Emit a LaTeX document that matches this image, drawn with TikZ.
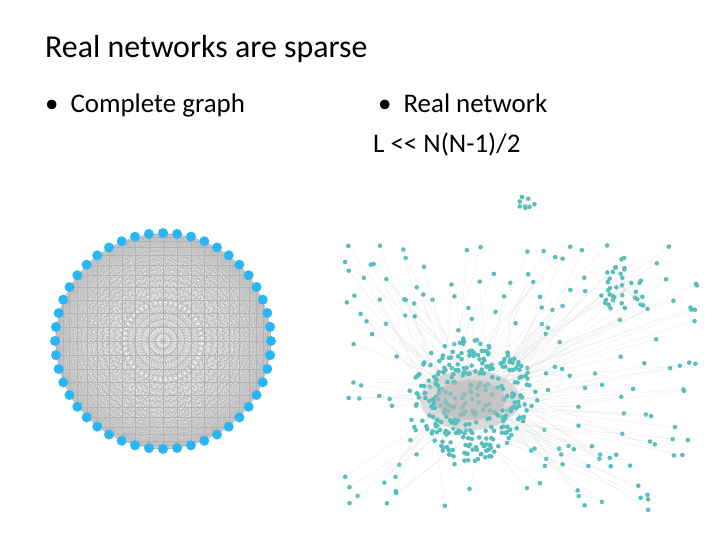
\documentclass[tikz,border=0pt]{standalone}
\usepackage{fontspec}
\setmainfont{Carlito}
\usetikzlibrary{calc}
\definecolor{kblue}{RGB}{41,182,246}
\definecolor{kteal}{RGB}{86,190,188}
\tikzset{
  vtx/.style={circle,fill=kblue,inner sep=0pt,minimum size=10bp},
  edge/.style={gray!60,line width=0.1pt},
  redge/.style={gray!25,line width=0.15pt},
  title/.style={anchor=base west,font=\fontsize{32}{36}\selectfont,inner sep=0pt},
  item/.style={anchor=base west,font=\fontsize{27}{32}\selectfont,inner sep=0pt},
}
\begin{document}
\begin{tikzpicture}[x=1bp,y=-1bp]
    \useasboundingbox (0,0) rectangle (720,540);
    \node[title] (ttl) at (45,58) {Real networks are sparse};
    \node[item] (b1) at (45,113) {\textbullet\hspace{12bp}Complete graph};
    \node[item] (b2) at (378,113) {\textbullet\hspace{12bp}Real network};
    \node[item] (b3) at (373,153) {L {<}{<} N(N-1)/2};
    % complete graph
    \coordinate (cg) at (163,341);
    \foreach \i in {1,...,48}
        \coordinate (v\i) at ($(cg)+(\i*7.5:108)$);
    \foreach \i in {1,...,47}{
        \pgfmathtruncatemacro\j{\i+1}
        \foreach \k in {\j,...,48}
            \draw[edge] (v\i) -- (v\k);
    }
    \foreach \i in {1,...,48}
        \node[vtx] (n\i) at (v\i) {};
    % real network
    \pgfmathsetseed{11}
    \coordinate (hub) at (470,400);
    \foreach \i in {1,...,200}{
        \pgfmathsetmacro\px{345+355*rnd}
        \pgfmathsetmacro\py{245+265*rnd}
        \pgfmathsetmacro\hx{470+40*rand}
        \pgfmathsetmacro\hy{400+20*rand}
        \draw[redge] (\hx,\hy) -- (\px,\py);
        \fill[kteal] (\px,\py) circle (2.3bp);
    }
    \fill[gray!45,opacity=0.6] (hub) ellipse (50 and 30);
    \foreach \i in {1,...,300}{
        \pgfmathsetmacro\ang{360*rnd}
        \pgfmathsetmacro\rr{62*sqrt(rnd)}
        \fill[kteal] ($(hub)+(\ang:\rr)$) circle (2.3bp);
    }
    \fill[gray!55,opacity=0.6] (hub) ellipse (35 and 20);
    \foreach \i in {1,...,30}{
        \pgfmathsetmacro\ang{360*rnd}
        \pgfmathsetmacro\rr{25*sqrt(rnd)}
        \draw[redge] (625,290) -- ($(625,290)+(\ang:\rr)$);
        \fill[kteal] ($(625,290)+(\ang:\rr)$) circle (2.3bp);
    }
    \foreach \i in {1,...,8}{
        \pgfmathsetmacro\ang{360*rnd}
        \pgfmathsetmacro\rr{12*sqrt(rnd)}
        \fill[kteal] ($(523,205)+(\ang:\rr)$) circle (2.3bp);
    }
\end{tikzpicture}
\end{document}
